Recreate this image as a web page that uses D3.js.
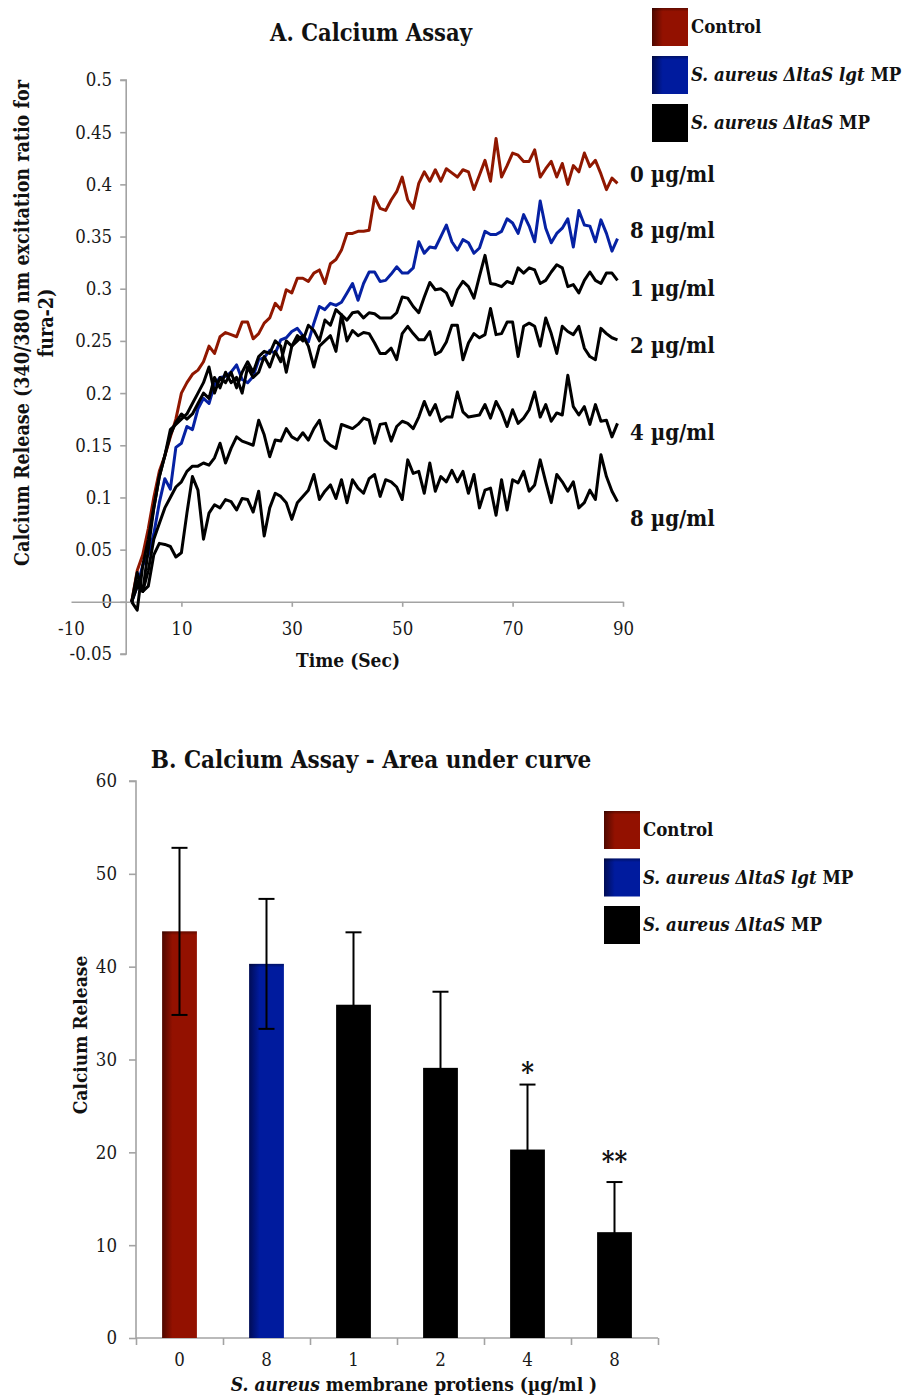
<!DOCTYPE html>
<html>
<head>
<meta charset="utf-8">
<script src="https://cdn.jsdelivr.net/npm/d3@7"></script>
<style>
  body { margin: 0; background: #fff; }
  svg { display: block; }
  text { font-family: "DejaVu Serif Condensed", "DejaVu Serif", serif; font-stretch: condensed; fill: #111; }
</style>
</head>
<body>
<svg id="chart" width="903" height="1395"></svg>
<script>
// ---------- Panel A: calcium traces (fura-2 ratio vs time) ----------
const timeSec = [1,2,3,4,5,6,7,8,9,10,11,12,13,14,15,16,17,18,19,20,21,22,23,24,25,26,27,28,29,30,
  31,32,33,34,35,36,37,38,39,40,41,42,43,44,45,46,47,48,49,50,51,52,53,54,55,56,57,58,59,60,
  61,62,63,64,65,66,67,68,69,70,71,72,73,74,75,76,77,78,79,80,81,82,83,84,85,86,87,88,89];

const control0 = [0,0.03,0.045,0.07,0.1, 0.125,0.14,0.158,0.175,0.2, 0.21,0.218,0.222,0.23,0.245,
  0.238,0.254,0.258,0.256,0.254, 0.268,0.268,0.252,0.257,0.267, 0.272,0.286,0.28,0.299,0.296,
  0.31,0.31,0.307,0.315,0.318, 0.305,0.324,0.328,0.337,0.353, 0.353,0.355,0.355,0.356,0.388,
  0.377,0.375,0.385,0.393,0.407, 0.385,0.377,0.401,0.412,0.403, 0.414,0.403,0.415,0.411,0.407,
  0.414,0.412,0.395,0.409,0.423, 0.403,0.444,0.407,0.418,0.43, 0.428,0.422,0.422,0.433,0.407,
  0.415,0.422,0.407,0.42,0.4, 0.418,0.412,0.43,0.417,0.423, 0.41,0.395,0.406,0.401];

const lgtMutant8 = [0,0.015,0.035,0.045,0.065, 0.095,0.118,0.108,0.148,0.152, 0.168,0.165,0.185,0.195,0.19,
  0.208,0.215,0.216,0.22,0.227, 0.213,0.21,0.216,0.232,0.234, 0.241,0.238,0.251,0.253,0.259,
  0.262,0.255,0.249,0.267,0.283, 0.28,0.286,0.284,0.287,0.296, 0.305,0.289,0.305,0.316,0.316,
  0.307,0.308,0.314,0.321,0.315, 0.315,0.32,0.345,0.334,0.34, 0.339,0.35,0.361,0.345,0.337,
  0.347,0.344,0.334,0.339,0.355, 0.352,0.352,0.355,0.367,0.363, 0.353,0.371,0.36,0.345,0.384,
  0.358,0.344,0.353,0.358,0.367, 0.34,0.375,0.361,0.36,0.345, 0.366,0.353,0.336,0.348];

const ltaS1 = [0,0.02,0.01,0.05,0.09, 0.12,0.14,0.165,0.17,0.175, 0.18,0.19,0.2,0.21,0.225,
  0.2,0.215,0.21,0.22,0.205, 0.22,0.23,0.22,0.235,0.24, 0.238,0.25,0.245,0.22,0.245,
  0.255,0.25,0.265,0.26,0.25, 0.27,0.265,0.28,0.275,0.27, 0.277,0.278,0.272,0.277,
  0.276,0.272,0.272,0.272,0.277, 0.292,0.291,0.283,0.277,0.292, 0.306,0.299,0.300,0.296,0.284,
  0.299,0.307,0.302,0.291,0.312, 0.332,0.305,0.304,0.302,0.307, 0.305,0.320,0.315,0.320,0.318,
  0.305,0.308,0.316,0.323,0.320, 0.302,0.304,0.296,0.308,0.316, 0.308,0.305,0.315,0.315,0.308];

const ltaS2 = [0,-0.008,0.035,0.06,0.09, 0.12,0.14,0.16,0.172,0.18, 0.175,0.18,0.19,0.2,0.195,
  0.215,0.205,0.22,0.21,0.215, 0.2,0.225,0.215,0.22,0.235, 0.225,0.24,0.23,0.25,0.245,
  0.25,0.255,0.245,0.225,0.245, 0.25,0.255,0.24,0.275,0.25, 0.26,0.255,0.258,0.257,
  0.248,0.238,0.238,0.243,0.232, 0.257,0.264,0.257,0.251,0.251, 0.259,0.237,0.240,0.249,0.265,
  0.265,0.232,0.248,0.257,0.253, 0.256,0.281,0.256,0.257,0.268, 0.268,0.235,0.264,0.267,0.264,
  0.245,0.272,0.257,0.238,0.264, 0.259,0.256,0.264,0.243,0.235, 0.232,0.262,0.257,0.253,0.251];

const ltaS4 = [0,0.015,0.01,0.03,0.06, 0.075,0.09,0.1,0.11,0.115, 0.125,0.13,0.13,0.133,0.131,
  0.138,0.152,0.133,0.147,0.158, 0.154,0.152,0.15,0.174,0.16, 0.139,0.155,0.154,0.166,0.158,
  0.155,0.162,0.155,0.166,0.174, 0.155,0.15,0.147,0.17,0.168, 0.166,0.17,0.176,0.174,
  0.152,0.170,0.171,0.154,0.168, 0.173,0.171,0.166,0.177,0.192, 0.179,0.189,0.173,0.177,0.177,
  0.201,0.182,0.177,0.178,0.179, 0.189,0.176,0.192,0.182,0.168, 0.184,0.171,0.176,0.184,0.201,
  0.177,0.189,0.173,0.181,0.179, 0.217,0.187,0.179,0.187,0.170, 0.189,0.173,0.174,0.158,0.171];

const ltaS8 = [0,0.028,0.01,0.015,0.045, 0.056,0.055,0.053,0.043,0.047, 0.085,0.12,0.107,0.06,0.085,
  0.093,0.09,0.098,0.096,0.088, 0.099,0.098,0.086,0.106,0.063, 0.09,0.104,0.101,0.095,0.079,
  0.095,0.101,0.107,0.122,0.098, 0.106,0.112,0.099,0.117,0.095, 0.117,0.109,0.104,0.118,0.122,
  0.101,0.117,0.115,0.110,0.098, 0.136,0.123,0.125,0.104,0.133, 0.106,0.120,0.115,0.126,0.115,
  0.125,0.104,0.122,0.090,0.107, 0.109,0.083,0.117,0.088,0.117, 0.114,0.125,0.106,0.112,0.136,
  0.115,0.095,0.122,0.115,0.106, 0.115,0.090,0.095,0.107,0.098, 0.141,0.120,0.106,0.096];

const traceColors = ["#901700", "#0621a3", "#000", "#000", "#000", "#000"];
const traceSeries = [control0, lgtMutant8, ltaS1, ltaS2, ltaS4, ltaS8];
const traceLabels = ["0 µg/ml", "8 µg/ml", "1 µg/ml", "2 µg/ml", "4 µg/ml", "8 µg/ml"];
// vertical anchor (in data units) for each end-of-line label
const traceLabelLevels = [0.41, 0.356, 0.300, 0.246, 0.162, 0.080];

const yTicksA = [-0.05, 0, 0.05, 0.1, 0.15, 0.2, 0.25, 0.3, 0.35, 0.4, 0.45, 0.5];
const xTicksA = [-10, 10, 30, 50, 70, 90];

// ---------- Panel B: area under curve ----------
const aucCategories = ["0", "8", "1", "2", "4", "8"];
const aucValues = [43.8, 40.3, 35.9, 29.1, 20.3, 11.4];
const aucErrors = [9.0, 7.0, 7.8, 8.2, 7.0, 5.4];
const aucGroup = [0, 1, 2, 2, 2, 2];
const aucStars = ["", "", "", "", "*", "**"];
// centre height (data units) of each significance mark
const aucStarLevels = [0, 0, 0, 0, 29.1, 19.5];
const yTicksB = [0, 10, 20, 30, 40, 50, 60];

const legendNames = [
  [["Control", false]],
  [["S. aureus ΔltaS lgt", true], [" MP", false]],
  [["S. aureus ΔltaS", true], [" MP", false]]
];
const groupColors = ["#931100", "#001b9e", "#000000"];
const groupShade = ["#4e0800", "#000c55", "#000000"];

const svg = d3.select("#chart");
const axisGrey = "#a3a3a3";
const tickFont = 18.5;

// shaded fills for bars and legend swatches
const defs = svg.append("defs");
groupColors.forEach((c, i) => {
  const g = defs.append("linearGradient").attr("id", "hshade" + i).attr("x1", 0).attr("x2", 1).attr("y1", 0).attr("y2", 0);
  g.append("stop").attr("offset", 0).attr("stop-color", groupShade[i]);
  g.append("stop").attr("offset", 0.3).attr("stop-color", c);
  g.append("stop").attr("offset", 1).attr("stop-color", c);
});
const vg = defs.append("linearGradient").attr("id", "vshade").attr("x1", 0).attr("x2", 0).attr("y1", 0).attr("y2", 1);
vg.append("stop").attr("offset", 0).attr("stop-color", "#000").attr("stop-opacity", 0.35);
vg.append("stop").attr("offset", 0.12).attr("stop-color", "#000").attr("stop-opacity", 0);

function shadedRect(g, x, y, w, h, gi) {
  g.append("rect").attr("x", x).attr("y", y).attr("width", w).attr("height", h).attr("fill", `url(#hshade${gi})`);
  if (gi < 2) g.append("rect").attr("x", x).attr("y", y).attr("width", w).attr("height", Math.min(h, 30)).attr("fill", "url(#vshade)");
}

function legend(g, x0, y0, step) {
  legendNames.forEach((parts, i) => {
    const y = y0 + i * step;
    shadedRect(g, x0, y, 36, 38, i);
    const t = g.append("text").attr("x", x0 + 39).attr("y", y + 19).attr("dy", "0.35em")
      .attr("font-size", 18.5).attr("font-weight", "bold");
    parts.forEach(([s, it]) => t.append("tspan").text(s).attr("font-style", it ? "italic" : "normal"));
  });
}

function styleTicks(a) {
  a.selectAll("path, line").attr("stroke", axisGrey).attr("stroke-width", 1.6);
  a.selectAll("text").attr("font-size", tickFont).attr("font-family", null).style("fill", "#1a1a1a");
}

// ----- Panel A -----
const xA = d3.scaleLinear().domain([-10, 90]).range([71, 623]);
const yA = d3.scaleLinear().domain([-0.05, 0.5]).range([654, 80]);
const gA = svg.append("g");

gA.append("text").attr("x", 371).attr("y", 41).attr("text-anchor", "middle")
  .attr("font-size", 23.5).attr("font-weight", "bold").text("A. Calcium Assay");

const yAxisA = gA.append("g").attr("transform", `translate(${xA(0)},0)`)
  .call(d3.axisLeft(yA).tickValues(yTicksA).tickSize(6).tickPadding(8).tickFormat(d => String(+d.toFixed(2))));
const xAxisA = gA.append("g").attr("transform", `translate(0,${yA(0)})`)
  .call(d3.axisBottom(xA).tickValues(xTicksA).tickSize(5).tickPadding(15).tickSizeOuter(0).tickFormat(d => String(d)));
styleTicks(yAxisA);
styleTicks(xAxisA);
yAxisA.select(".domain").attr("d", `M-6,${yA(0.5)}H0V${yA(-0.05)}H-6`);
xAxisA.selectAll(".tick").filter(d => d === -10).select("line").remove();

gA.append("text").attr("x", 348).attr("y", 667).attr("text-anchor", "middle")
  .attr("font-size", 19).attr("font-weight", "bold").text("Time (Sec)");
const yTitleA = gA.append("text").attr("transform", "translate(22,323) rotate(-90)")
  .attr("text-anchor", "middle").attr("font-size", 19.5).attr("font-weight", "bold");
yTitleA.append("tspan").attr("x", 0).attr("dy", "0.35em").text("Calcium Release (340/380 nm excitation ratio for");
yTitleA.append("tspan").attr("x", 0).attr("dy", "1.22em").text("fura-2)");

const line = d3.line().x((d, i) => xA(timeSec[i])).y(d => yA(d));
traceSeries.forEach((s, i) => {
  gA.append("path").datum(s).attr("d", line).attr("fill", "none")
    .attr("stroke", traceColors[i]).attr("stroke-width", 3).attr("stroke-linejoin", "round");
});
traceLabels.forEach((t, i) => {
  gA.append("text").attr("x", 630).attr("y", yA(traceLabelLevels[i])).attr("dy", "0.35em")
    .attr("font-size", 22).attr("font-weight", "bold").text(t);
});
legend(gA, 652, 8, 48);

// ----- Panel B -----
const idx = aucValues.map((d, i) => i);
const xB = d3.scaleBand().domain(idx).range([136, 658]).paddingInner(0.6).paddingOuter(0.3);
const yB = d3.scaleLinear().domain([0, 60]).range([1338, 781]);
const gB = svg.append("g");

gB.append("text").attr("x", 371).attr("y", 768).attr("text-anchor", "middle")
  .attr("font-size", 24).attr("font-weight", "bold").text("B. Calcium Assay - Area under curve");

const yAxisB = gB.append("g").attr("transform", "translate(136,0)")
  .call(d3.axisLeft(yB).tickValues(yTicksB).tickSize(7).tickPadding(12).tickSizeOuter(7));
styleTicks(yAxisB);
yAxisB.select(".domain").attr("d", `M-7,${yB(60)}H0V${yB(0)}`);

const boundary = d3.scaleLinear().domain([0, aucValues.length]).range([136, 658]);
const xAxisB = gB.append("g").attr("transform", `translate(0,${yB(0)})`);
xAxisB.call(d3.axisBottom(boundary).tickValues(d3.range(aucValues.length + 1)).tickSize(7).tickFormat(""));
styleTicks(xAxisB);
xAxisB.select(".domain").attr("d", `M136,0H658`);
const xLabB = gB.append("g").attr("transform", `translate(0,${yB(0)})`)
  .call(d3.axisBottom(xB).tickSize(0).tickPadding(15).tickFormat(i => aucCategories[i]));
xLabB.select(".domain").remove();
styleTicks(xLabB);

idx.forEach(i => {
  const x = xB(i), w = xB.bandwidth();
  shadedRect(gB, x, yB(aucValues[i]), w, yB(0) - yB(aucValues[i]), aucGroup[i]);
});
idx.forEach(i => {
  const cx = xB(i) + xB.bandwidth() / 2;
  const hi = yB(aucValues[i] + aucErrors[i]), lo = yB(aucValues[i] - aucErrors[i]);
  gB.append("line").attr("x1", cx).attr("x2", cx).attr("y1", hi).attr("y2", lo).attr("stroke", "#000").attr("stroke-width", 2);
  [hi, lo].forEach(y => gB.append("line").attr("x1", cx - 8).attr("x2", cx + 8).attr("y1", y).attr("y2", y)
    .attr("stroke", "#000").attr("stroke-width", 2));
  if (aucStars[i]) {
    gB.append("text").attr("x", cx).attr("y", yB(aucStarLevels[i]) + 14).attr("text-anchor", "middle")
      .attr("font-size", 27).attr("font-weight", "bold").text(aucStars[i]);
  }
});

gB.append("text").attr("transform", "translate(80,1035) rotate(-90)").attr("text-anchor", "middle")
  .attr("dy", "0.35em").attr("font-size", 19).attr("font-weight", "bold").text("Calcium Release");
const xTitleB = gB.append("text").attr("x", 414).attr("y", 1391).attr("text-anchor", "middle")
  .attr("font-size", 19).attr("font-weight", "bold");
xTitleB.append("tspan").attr("font-style", "italic").text("S. aureus");
xTitleB.append("tspan").text(" membrane protiens (µg/ml )");

legend(gB, 604, 811, 47.5);
</script>
</body>
</html>
